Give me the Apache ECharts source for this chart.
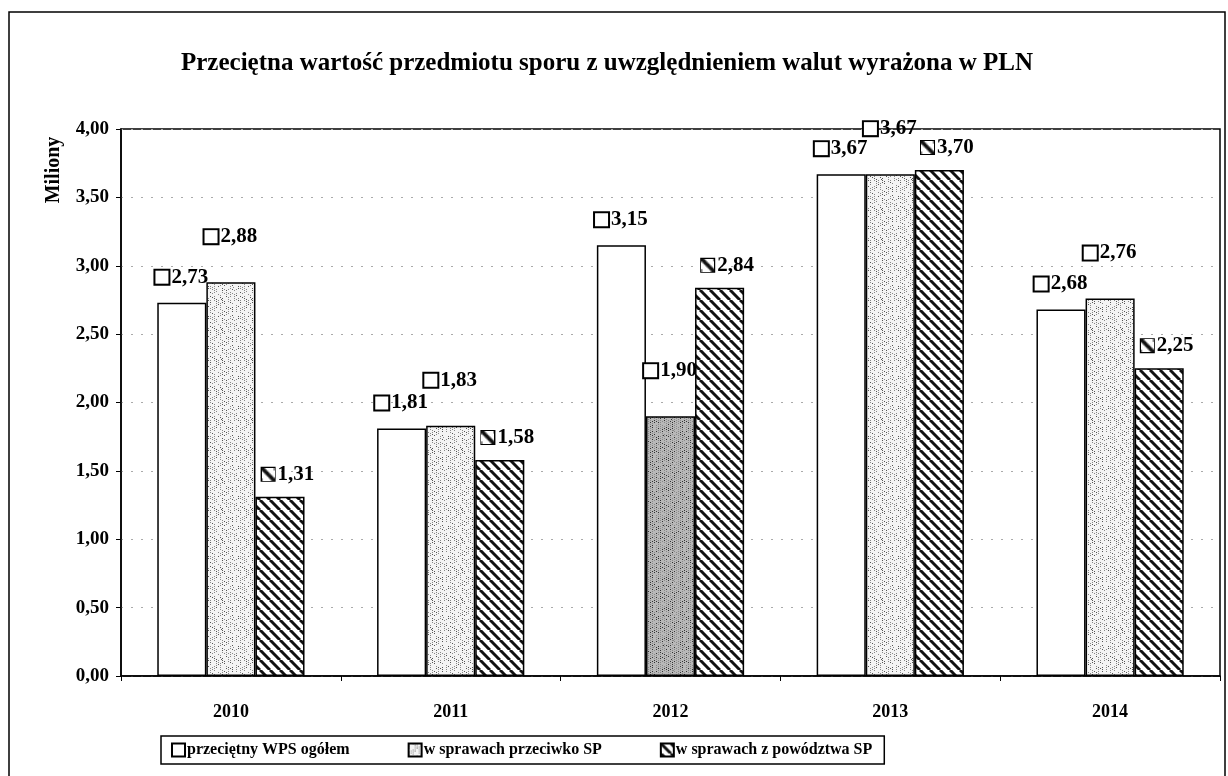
<!DOCTYPE html>
<html><head><meta charset="utf-8">
<script src="https://cdn.jsdelivr.net/npm/echarts@6/dist/echarts.min.js"></script>
<style>html,body{margin:0;padding:0;background:#fff}#c{width:1228px;height:776px}</style>
</head><body><div id="c"></div>
<script>
const categories = ['2010','2011','2012','2013','2014'];
const seriesNames = ['przeciętny WPS ogółem','w sprawach przeciwko SP','w sprawach z powództwa SP'];
const wpsOgolem = [2.73, 1.81, 3.15, 3.67, 2.68];
const przeciwkoSP = [2.88, 1.83, 1.90, 3.67, 2.76];
const zPowodztwaSP = [1.31, 1.58, 2.84, 3.70, 2.25];
const yTicks = {min: 0, max: 4, interval: 0.5};

const SERIF = '"Liberation Serif","DejaVu Serif",serif';
const fmt = v => v.toFixed(2).replace('.', ',');

function hatchCanvas(){
  const c = document.createElement('canvas'); c.width = 10; c.height = 10;
  const g = c.getContext('2d'); g.fillStyle = '#fff'; g.fillRect(0,0,10,10);
  g.strokeStyle = '#111'; g.lineWidth = 3;
  for (const o of [-10, 0, 10]) { g.beginPath(); g.moveTo(o, 0); g.lineTo(o + 10, 10); g.stroke(); }
  return c;
}
function dotCanvas(bg, dark, density){
  const s = 30, c = document.createElement('canvas'); c.width = s; c.height = s;
  const g = c.getContext('2d'); g.fillStyle = bg; g.fillRect(0,0,s,s);
  let k = 7;
  for (let i = 0; i < density; i++){
    k = (k * 1103515245 + 12345) % 2147483648;
    const x = k % s; const y = Math.floor(k / s) % s;
    g.fillStyle = (i % 3 === 0) ? dark : '#888';
    g.fillRect(x, y, 1, 1);
  }
  return c;
}
const hatch = {image: hatchCanvas(), repeat: 'repeat'};
const dots = {image: dotCanvas('#f4f4f4', '#555', 160), repeat: 'repeat'};
const dotsDark = {image: dotCanvas('#b8b8b8', '#333', 420), repeat: 'repeat'};

const labelFont = {fontFamily: SERIF, fontWeight: 'bold', fontSize: 21, color: '#000'};
function lbl(boxFill, dist, off){
  return {
    show: true, position: 'top', distance: dist, offset: off,
    formatter: p => '{b|}{t|' + fmt(p.value) + '}',
    rich: {
      b: {width: 13, height: 13, borderColor: '#000', borderWidth: 2, backgroundColor: boxFill},
      t: Object.assign({padding: [0,0,0,3]}, labelFont)
    }
  };
}
const barBorder = {borderColor: '#000', borderWidth: 1.5};

const chart = echarts.init(document.getElementById('c'));
chart.setOption({
  backgroundColor: '#fff',
  animation: false,
  title: {
    text: 'Przeciętna wartość przedmiotu sporu z uwzględnieniem walut wyrażona w PLN',
    left: 176, top: 46,
    textStyle: {fontFamily: SERIF, fontWeight: 'bold', fontSize: 25, color: '#000'}
  },
  graphic: [
    {type: 'rect', shape: {x: 9, y: 12, width: 1216, height: 800}, style: {fill: 'none', stroke: '#000', lineWidth: 1.5}, silent: true},
    {type: 'text', x: 54, y: 170, rotation: Math.PI / 2, style: {text: 'Miliony', font: 'bold 20px ' + SERIF, fill: '#000', textAlign: 'center', textVerticalAlign: 'middle'}}
  ],
  legend: {
    left: 161, top: 736, padding: [6, 12, 6, 10], itemGap: 58,
    borderColor: '#000', borderWidth: 1.5,
    itemWidth: 13, itemHeight: 13, icon: 'rect',
    textStyle: {fontFamily: SERIF, fontWeight: 'bold', fontSize: 16, color: '#000', padding: [0,0,0,-3]},
    data: seriesNames.map(n => ({name: n, itemStyle: {borderColor: '#000', borderWidth: 2}}))
  },
  grid: {left: 121, right: 8, top: 129, bottom: 100, show: true, borderColor: '#000', borderWidth: 1.5, containLabel: false},
  xAxis: {
    type: 'category', data: categories,
    axisLine: {lineStyle: {color: '#000', width: 1.5}},
    axisTick: {show: true, length: 5, lineStyle: {color: '#000'}},
    axisLabel: {fontFamily: SERIF, fontWeight: 'bold', fontSize: 18, color: '#000', margin: 27}
  },
  yAxis: {
    type: 'value', min: yTicks.min, max: yTicks.max, interval: yTicks.interval,
    axisLine: {show: true, lineStyle: {color: '#000', width: 1.5}},
    axisTick: {show: true, length: 5, lineStyle: {color: '#000'}},
    axisLabel: {formatter: fmt, fontFamily: SERIF, fontWeight: 'bold', fontSize: 19, color: '#000', margin: 12},
    splitLine: {show: true, lineStyle: {color: '#aaa', type: [2, 8], width: 1}}
  },
  series: [
    {name: seriesNames[0], type: 'bar', data: wpsOgolem, barGap: '0%', barCategoryGap: '33%',
     itemStyle: Object.assign({color: '#fff'}, barBorder), label: lbl('#fff', 15, [0, 0])},
    {name: seriesNames[1], type: 'bar', barGap: '0%', barCategoryGap: '33%',
     data: przeciwkoSP.map((v, i) => i === 2 ? {value: v, itemStyle: {color: dotsDark}} : v),
     itemStyle: Object.assign({color: dots}, barBorder), label: lbl('#fff', 35, [0, 0])},
    {name: seriesNames[2], type: 'bar', data: zPowodztwaSP, barGap: '0%', barCategoryGap: '33%',
     itemStyle: Object.assign({color: hatch}, barBorder), label: lbl(hatch, 12, [8, 0])}
  ]
});
</script></body></html>
